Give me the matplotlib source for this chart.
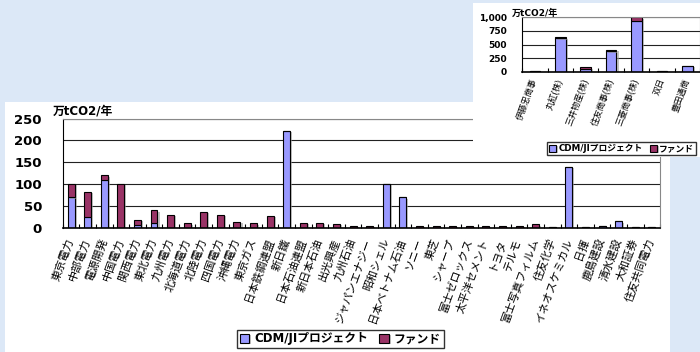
import matplotlib
matplotlib.use('Agg')
import matplotlib.pyplot as plt
import matplotlib.patheffects as pe
import numpy as np
from matplotlib.patches import Rectangle

plt.rcParams['font.family'] = ['Liberation Sans', 'Noto Sans CJK JP', 'DejaVu Sans']
heavy = ['DejaVu Sans', 'Noto Sans CJK JP']

# main chart data (万tCO2/年)
companies = ['東京電力', '中部電力', '電源開発', '中国電力', '関西電力', '東北電力',
             '九州電力', '北海道電力', '北陸電力', '四国電力', '沖縄電力', '東京ガス',
             '日本鉄鋼連盟', '新日鐵', '日本石油連盟', '新日本石油', '出光興産', '九州石油',
             'ジャパンエナジー', '昭和シェル', '日本ベトナム石油', 'ソニー', '東芝', 'シャープ',
             '富士ゼロックス', '太平洋セメント', 'トヨタ', 'テルモ', '富士写真フィルム',
             '住友化学', 'イネオスケミカル', '日揮', '鹿島建設', '清水建設', '大和証券',
             '住友共同電力']
cdm = [70, 25, 110, 0, 7, 11, 0, 0, 0, 0, 0, 0, 0, 222, 0, 0, 0, 0,
       0, 100, 70, 0, 0, 0, 0, 0, 0, 0, 0, 1, 140, 1, 5, 15, 1, 1]
fund = [30, 58, 10, 100, 11, 29, 29, 10, 37, 29, 13, 10, 27, 0, 11, 11, 9, 5,
        5, 0, 0, 5, 5, 5, 5, 5, 5, 5, 8, 0, 0, 0, 0, 0, 0, 0]

# inset chart data (trading houses)
traders = ['伊藤忠商事', '丸紅(株)', '三井物産(株)', '住友商事(株)', '三菱商事(株)', '双日', '豊田通商']
trader_cdm = [10, 615, 50, 375, 940, 10, 110]
trader_fund = [0, 20, 35, 25, 60, 0, 0]

c_cdm = '#9999ff'
c_fund = '#993366'
bg = '#dce8f7'

fig = plt.figure(figsize=(7, 3.52), dpi=100, facecolor=bg)

# white panels behind the charts
fig.patches.append(Rectangle((0.007, 0.0), 0.95, 0.71, transform=fig.transFigure,
                             facecolor='white', edgecolor='none', zorder=-2))
fig.patches.append(Rectangle((0.676, 0.554), 0.324, 0.437, transform=fig.transFigure,
                             facecolor='white', edgecolor='none', zorder=1))

shadow = [pe.SimplePatchShadow(offset=(1.5, -1), shadow_rgbFace='#999999', alpha=0.6),
          pe.Normal()]


def draw(ax, cats, a, b, ymax, step, fs_x, fs_y, fmt):
    x = np.arange(len(cats))
    ax.set_axisbelow(True)
    b1 = ax.bar(x, a, width=0.42, color=c_cdm, edgecolor='black', linewidth=0.8,
                label='CDM/JIプロジェクト')
    b2 = ax.bar(x, b, width=0.42, bottom=a, color=c_fund, edgecolor='black', linewidth=0.8,
                label='ファンド')
    for r in list(b1) + list(b2):
        r.set_path_effects(shadow)
    ax.set_xlim(-0.5, len(cats) - 0.5)
    ax.set_ylim(0, ymax)
    ticks = np.arange(0, ymax + 1, step)
    ax.set_yticks(ticks)
    ax.set_yticklabels([fmt(t) for t in ticks], fontsize=fs_y, fontweight='bold',
                       family=heavy)
    ax.yaxis.grid(True, color='#222222', linewidth=0.8)
    ax.set_xticks(x)
    ax.set_xticklabels(cats, rotation=70, ha='right', va='center',
                       rotation_mode='anchor', fontsize=fs_x)
    ax.set_xticks(np.arange(-0.5, len(cats)), minor=True)
    ax.tick_params(axis='x', which='major', length=0, pad=8)
    ax.tick_params(axis='x', which='minor', length=3, direction='in', width=0.8)
    ax.tick_params(axis='y', length=0)
    ax.set_facecolor('white')
    for s in ['top', 'right']:
        ax.spines[s].set_color('#888888')
    ax.spines['left'].set_color('black')
    ax.spines['bottom'].set_color('black')
    ax.spines['bottom'].set_linewidth(1.2)


ax = fig.add_axes([0.0896, 0.353, 0.8534, 0.31], zorder=0)
draw(ax, companies, cdm, fund, 250, 50, 8, 9.5, lambda t: f'{t:d}')
ax.tick_params(axis='y', pad=15)
fig.text(0.076, 0.667, '万tCO2/年', fontsize=8.5, fontweight='bold', va='bottom',
         family=heavy)
ax.legend(loc='center', bbox_to_anchor=(0.486, 0.037), bbox_transform=fig.transFigure,
          ncol=2, frameon=True, fancybox=False, edgecolor='black',
          prop={'weight': 'bold', 'size': 8.5, 'family': heavy}, handlelength=0.8,
          handleheight=0.8, handletextpad=0.4, columnspacing=1.0, borderpad=0.25)

ax2 = fig.add_axes([0.746, 0.796, 0.254, 0.155], zorder=2)
draw(ax2, traders, trader_cdm, trader_fund, 1000, 250, 6.3, 6.5, lambda t: f'{t:,d}')
ax2.tick_params(axis='y', pad=11)
ax2.tick_params(axis='x', pad=5)
fig.text(0.731, 0.95, '万tCO2/年', fontsize=6.5, fontweight='bold', va='bottom', zorder=3,
         family=heavy)
ax2.legend(loc='center', bbox_to_anchor=(0.888, 0.578), bbox_transform=fig.transFigure,
           ncol=2, frameon=True, fancybox=False, edgecolor='black',
           prop={'weight': 'bold', 'size': 6.3, 'family': heavy}, handlelength=0.8,
           handleheight=0.8, handletextpad=0.3, columnspacing=0.8, borderpad=0.2)

plt.savefig('out.png', dpi=100, facecolor=bg)
